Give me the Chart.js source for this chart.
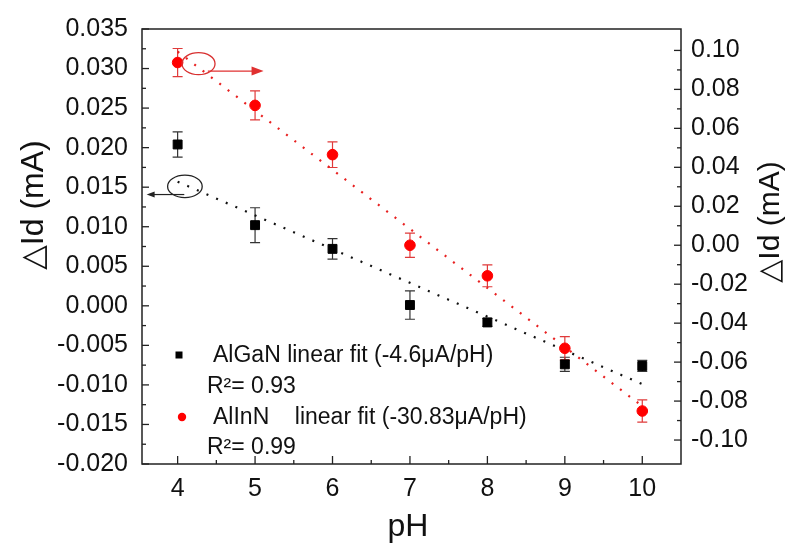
<!DOCTYPE html>
<html><head><meta charset="utf-8">
<script src="https://cdn.jsdelivr.net/npm/chart.js@4"></script>
<style>html,body{margin:0;padding:0;background:#fff}canvas{display:block}</style>
</head><body>
<canvas id="c" width="785" height="545"></canvas>
<script>
// ---- data ----
const pH = [4, 5, 6, 7, 8, 9, 10];
const alganDelta = [0.0204, 0.0102, 0.0072, 0.0001, -0.0021, -0.0074, -0.0076];   // left axis (mA)
const alganErr   = [0.0016, 0.0022, 0.0013, 0.0018, 0.0005, 0.0009, 0.0007];
const allnnDelta = [0.0938, 0.0718, 0.0465, 0.0000, -0.0157, -0.0529, -0.0851];   // right axis (mA)
const allnnErr   = [0.0072, 0.0074, 0.0066, 0.0062, 0.0056, 0.0060, 0.0057];
const fitPH      = [4, 10];
const alganFit   = [0.0157, -0.0099];
const allnnFit   = [0.0994, -0.0826];
const xTicks     = [4, 5, 6, 7, 8, 9, 10];
const yLeftTicks = [-0.020, -0.015, -0.010, -0.005, 0.000, 0.005, 0.010, 0.015, 0.020, 0.025, 0.030, 0.035];
const yRightTicks= [-0.10, -0.08, -0.06, -0.04, -0.02, 0.00, 0.02, 0.04, 0.06, 0.08, 0.10];
const legendLabels = ['AlGaN linear fit (-4.6\u03bcA/pH)', 'AlInN    linear fit (-30.83\u03bcA/pH)'];
const legendR2     = ['R\u00b2= 0.93', 'R\u00b2= 0.99'];
const xTitle = 'pH';
const yTitle = '\u25b3Id (mA)';

const FAM = "'Liberation Sans', Arial, 'DejaVu Sans', sans-serif";
const pts = (xs, ys) => xs.map((x, i) => ({x, y: ys[i]}));
const mids = t => t.slice(1).map((v, i) => (v + t[i]) / 2);

function tickMarks(ctx, scale, majors, dir, horiz, ca) {
  const draw = (v, len) => {
    const p = scale.getPixelForValue(v);
    ctx.beginPath();
    if (horiz) { ctx.moveTo(p, ca.bottom); ctx.lineTo(p, ca.bottom - len); }
    else { const x0 = dir > 0 ? ca.left : ca.right; ctx.moveTo(x0, p); ctx.lineTo(x0 + dir * len, p); }
    ctx.stroke();
  };
  majors.forEach(v => draw(v, horiz ? 8 : 7));
  mids(majors).forEach(v => draw(v, 4));
}

function errBars(ctx, xs, scale, vals, errs, color) {
  ctx.save(); ctx.strokeStyle = color; ctx.lineWidth = 1.2;
  vals.forEach((v, i) => {
    const x = xs.getPixelForValue(pH[i]);
    const y1 = scale.getPixelForValue(v + errs[i]), y2 = scale.getPixelForValue(v - errs[i]);
    ctx.beginPath();
    ctx.moveTo(x, y1); ctx.lineTo(x, y2);
    ctx.moveTo(x - 5, y1); ctx.lineTo(x + 5, y1);
    ctx.moveTo(x - 5, y2); ctx.lineTo(x + 5, y2);
    ctx.stroke();
  });
  ctx.restore();
}

function arrow(ctx, x1, y1, x2, y2, color, hl, hw) {
  ctx.save(); ctx.strokeStyle = color; ctx.fillStyle = color; ctx.lineWidth = 1.2;
  const d = Math.sign(x2 - x1);
  ctx.beginPath(); ctx.moveTo(x1, y1); ctx.lineTo(x2 - d * hl * 0.8, y2); ctx.stroke();
  ctx.beginPath(); ctx.moveTo(x2, y2); ctx.lineTo(x2 - d * hl, y2 - hw); ctx.lineTo(x2 - d * hl, y2 + hw); ctx.closePath(); ctx.fill();
  ctx.restore();
}

const decor = {
  id: 'decor',
  beforeDatasetsDraw(chart) {
    const {ctx, scales} = chart;
    errBars(ctx, scales.x, scales.yL, alganDelta, alganErr, '#333');
    errBars(ctx, scales.x, scales.yR, allnnDelta, allnnErr, '#e03a3a');
  },
  afterDatasetsDraw(chart) {
    const {ctx, chartArea: ca, scales} = chart;
    const {x, yL, yR} = scales;
    ctx.save();
    // frame
    ctx.strokeStyle = '#222'; ctx.lineWidth = 1.5;
    ctx.strokeRect(ca.left, ca.top, ca.right - ca.left, ca.bottom - ca.top);
    ctx.lineWidth = 1.3;
    tickMarks(ctx, x, xTicks, -1, true, ca);
    tickMarks(ctx, yL, yLeftTicks, 1, false, ca);
    tickMarks(ctx, yR, yRightTicks, -1, false, ca);

    // annotations: ellipses + arrows pointing to the axes
    ctx.lineWidth = 1.3;
    ctx.strokeStyle = '#d83030';
    ctx.beginPath(); ctx.ellipse(x.getPixelForValue(4.27), yR.getPixelForValue(0.0932), 16.5, 11, 0, 0, Math.PI * 2); ctx.stroke();
    arrow(ctx, x.getPixelForValue(4.39), yR.getPixelForValue(0.0894), x.getPixelForValue(5.11), yR.getPixelForValue(0.0894), '#e03030', 12, 4.5);
    ctx.strokeStyle = '#222';
    ctx.beginPath(); ctx.ellipse(x.getPixelForValue(4.094), yL.getPixelForValue(0.0151), 17.3, 11.2, 0, 0, Math.PI * 2); ctx.stroke();
    arrow(ctx, x.getPixelForValue(4.086), yL.getPixelForValue(0.01407), x.getPixelForValue(3.60), yL.getPixelForValue(0.01407), '#222', 8, 3);

    // legend (inside plot)
    ctx.fillStyle = '#000';
    ctx.fillRect(175.5, 351.5, 7, 7);
    ctx.fillStyle = '#ff0000';
    ctx.beginPath(); ctx.arc(182, 417, 4.2, 0, Math.PI * 2); ctx.fill();
    ctx.fillStyle = '#111';
    ctx.font = '23px ' + FAM; ctx.textBaseline = 'middle'; ctx.textAlign = 'left';
    ctx.fillText(legendLabels[0], 213, 356);
    ctx.fillText(legendR2[0], 207, 387);
    ctx.fillText(legendLabels[1], 213, 418);
    ctx.fillText(legendR2[1], 207, 448);

    // axis titles
    ctx.fillStyle = '#111';
    ctx.font = '32px ' + FAM; ctx.textAlign = 'center'; ctx.textBaseline = 'alphabetic';
    ctx.fillText(xTitle, 408, 536);
    ctx.textBaseline = 'middle';
    ctx.font = '32px ' + FAM;
    ctx.save(); ctx.translate(34, 205); ctx.rotate(-Math.PI / 2); ctx.fillText(yTitle, 0, 0); ctx.restore();
    ctx.font = '30px ' + FAM;
    ctx.save(); ctx.translate(771, 222); ctx.rotate(-Math.PI / 2); ctx.fillText(yTitle, 0, 0); ctx.restore();
    ctx.restore();
  }
};

const tickFont = {family: FAM, size: 25};
new Chart(document.getElementById('c'), {
  type: 'scatter',
  data: {
    datasets: [
      {label: 'AlGaN', data: pts(pH, alganDelta), yAxisID: 'yL', pointStyle: 'rect', pointRadius: 6.3,
       backgroundColor: '#000', borderColor: '#000', borderWidth: 1, order: 0},
      {label: 'AlInN', data: pts(pH, allnnDelta), yAxisID: 'yR', pointStyle: 'circle', pointRadius: 5.3,
       backgroundColor: '#ff0000', borderColor: '#ff0000', borderWidth: 1, order: 0},
      {type: 'line', label: 'AlGaN fit', data: pts(fitPH, alganFit), yAxisID: 'yL', borderColor: '#111',
       borderWidth: 2.2, borderDash: [2, 8.5], pointRadius: 0, fill: false, order: 1},
      {type: 'line', label: 'AlInN fit', data: pts(fitPH, allnnFit), yAxisID: 'yR', borderColor: '#e82020',
       borderWidth: 2.2, borderDash: [2, 8.5], pointRadius: 0, fill: false, order: 1}
    ]
  },
  options: {
    responsive: false, animation: false, devicePixelRatio: 1,
    layout: {padding: {top: 27, left: 0, right: 0, bottom: 0}},
    plugins: {legend: {display: false}, tooltip: {enabled: false}},
    scales: {
      x: {type: 'linear', min: 3.54, max: 10.5,
          afterBuildTicks: s => { s.ticks = xTicks.map(v => ({value: v})); },
          afterFit: s => { s.height = 81; },
          grid: {display: false, drawTicks: false}, border: {display: false},
          ticks: {font: tickFont, color: '#111', padding: 10, maxRotation: 0, autoSkip: false, callback: v => String(v)}},
      yL: {type: 'linear', position: 'left', min: -0.020, max: 0.035,
           afterBuildTicks: s => { s.ticks = yLeftTicks.map(v => ({value: v})); },
           afterFit: s => { s.width = 142; },
           grid: {display: false, drawTicks: false}, border: {display: false},
           ticks: {font: tickFont, color: '#111', padding: 14, autoSkip: false, callback: v => v.toFixed(3)}},
      yR: {type: 'linear', position: 'right', min: -0.1123, max: 0.111,
           afterBuildTicks: s => { s.ticks = yRightTicks.map(v => ({value: v})); },
           afterFit: s => { s.width = 104; },
           grid: {display: false, drawTicks: false}, border: {display: false},
           ticks: {font: tickFont, color: '#111', padding: 10, autoSkip: false, callback: v => v.toFixed(2)}}
    }
  },
  plugins: [decor]
});
</script>
</body></html>
